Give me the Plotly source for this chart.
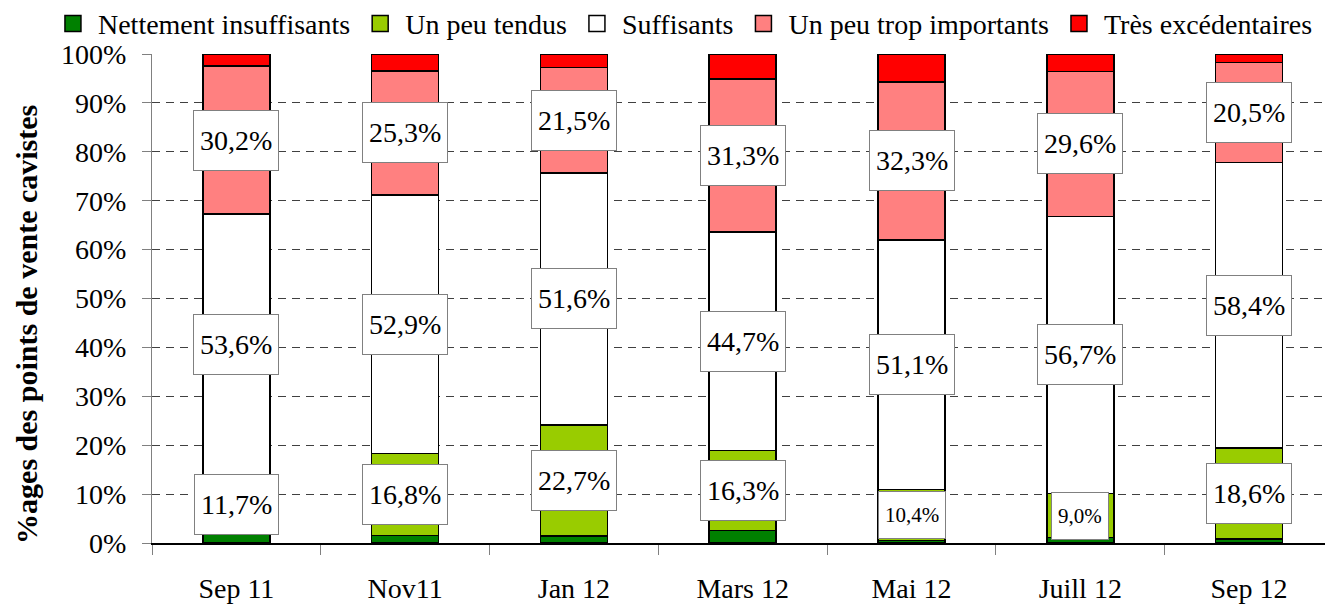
import plotly.graph_objects as go

# periods surveyed
periodes = ["Sep 11", "Nov11", "Jan 12", "Mars 12", "Mai 12", "Juill 12", "Sep 12"]

# share of points of sale per answer (%)
nettement_insuffisants = [2.0, 1.5, 1.4, 2.6, 0.5, 1.1, 0.8]
un_peu_tendus = [11.7, 16.8, 22.7, 16.3, 10.4, 9.0, 18.6]
suffisants = [53.6, 52.9, 51.6, 44.7, 51.1, 56.7, 58.4]
un_peu_trop_importants = [30.2, 25.3, 21.5, 31.3, 32.3, 29.6, 20.5]
tres_excedentaires = [2.5, 3.5, 2.8, 5.1, 5.7, 3.6, 1.7]

series = [
    ("Nettement insuffisants", nettement_insuffisants, "#008000", False),
    ("Un peu tendus", un_peu_tendus, "#99CC00", True),
    ("Suffisants", suffisants, "#FFFFFF", True),
    ("Un peu trop importants", un_peu_trop_importants, "#FF8080", True),
    ("Très excédentaires", tres_excedentaires, "#FF0000", False),
]

FONT = "Liberation Serif"

fig = go.Figure()
annotations = []
base = [0.0] * len(periodes)

for name, values, color, labelled in series:
    fig.add_trace(go.Bar(
        x=periodes, y=values, name=name, showlegend=False,
        marker=dict(color=color, line=dict(color="black", width=1.5)),
    ))
    # legend entry with a bigger square than the bar default
    fig.add_trace(go.Scatter(
        x=[None], y=[None], name=name, mode="markers",
        marker=dict(symbol="square", size=16, color=color,
                    line=dict(color="black", width=1.5)),
    ))
    if labelled:
        for i, v in enumerate(values):
            small = v < 11
            annotations.append(dict(
                x=periodes[i], y=base[i] + v / 2, xref="x", yref="y",
                text=f"{v:.1f}".replace(".", ",") + "%",
                showarrow=False,
                font=dict(family=FONT, size=21 if small else 28, color="black"),
                bgcolor="white", bordercolor="#808080", borderwidth=1,
                borderpad=6, height=34 if small else 47,
            ))
    base = [b + v for b, v in zip(base, values)]

# y-axis title placed as annotation (it sits a bit below the plot centre)
annotations.append(dict(
    x=-0.1066, y=0.448, xref="paper", yref="paper",
    text="<b>%ages des points de vente cavistes</b>", textangle=-90,
    showarrow=False, xanchor="center", yanchor="middle",
    font=dict(family=FONT, size=30, color="black"),
))

fig.update_layout(
    barmode="stack",
    bargap=0.603,
    width=1325, height=604,
    margin=dict(l=152, r=0, t=54, b=61, autoexpand=False),
    plot_bgcolor="white", paper_bgcolor="white",
    font=dict(family=FONT, size=28, color="black"),
    annotations=annotations,
    legend=dict(
        orientation="h", xref="paper", yref="paper",
        x=-0.0887, xanchor="left", y=1.113, yanchor="top",
        itemwidth=40, bgcolor="rgba(0,0,0,0)",
        font=dict(family=FONT, size=28), traceorder="normal",
    ),
    xaxis=dict(
        type="category", range=[-0.5, 6.45],
        showline=True, linecolor="black", linewidth=1.5,
        ticks="outside", tickson="boundaries", ticklen=10, tickcolor="#808080",
        ticklabelstandoff=20, showgrid=False,
        tickfont=dict(family=FONT, size=28),
    ),
    yaxis=dict(
        range=[0, 100], dtick=10, ticksuffix="%",
        showline=True, linecolor="#808080", linewidth=1,
        ticks="outside", ticklen=9, tickcolor="#808080",
        ticklabelstandoff=10,
        showgrid=True, gridcolor="#404040", gridwidth=1, griddash="8px,6px",
        zeroline=False,
        tickfont=dict(family=FONT, size=28),
    ),
)

fig.write_html("out.html", config={"displayModeBar": False},
               post_script="document.body.style.margin='0';")
